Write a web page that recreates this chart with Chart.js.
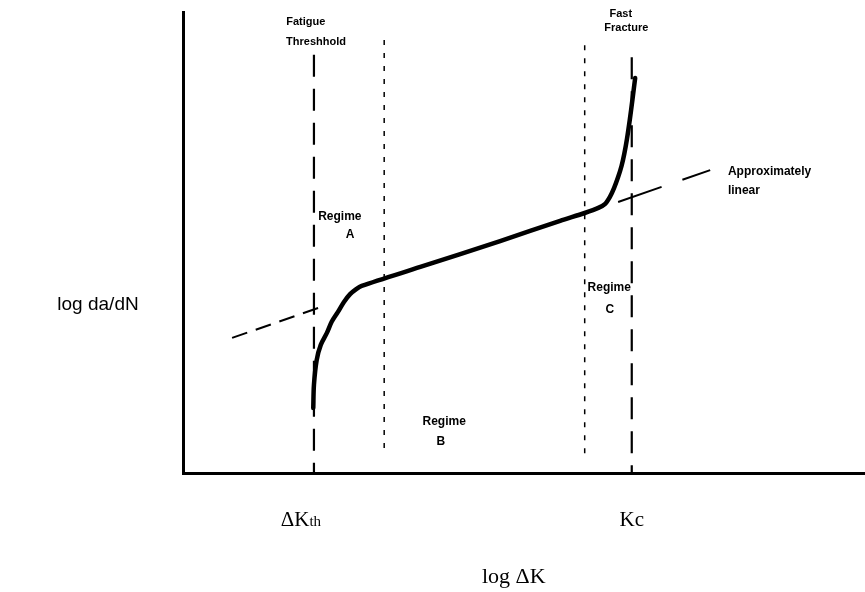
<!DOCTYPE html>
<html><head><meta charset="utf-8">
<script src="https://cdn.jsdelivr.net/npm/chart.js@4"></script>
<style>html,body{margin:0;padding:0;background:#fff}#wrap{width:865px;height:592px}</style>
</head><body><div id="wrap"><canvas id="c" width="865" height="592"></canvas></div>
<script>
// ---- Data (arbitrary log units, read from the schematic) ----
const curveX = [1.91, 1.92, 1.96, 2.02, 2.11, 2.18, 2.27, 2.36, 2.45, 2.54, 2.62, 3.48, 4.65, 5.53, 5.89, 6.09, 6.19, 6.26, 6.32, 6.38, 6.43, 6.47, 6.51, 6.55, 6.59, 6.63];
const curveY = [1.41, 1.91, 2.45, 2.78, 3.04, 3.28, 3.49, 3.71, 3.88, 3.99, 4.06, 4.47, 5.03, 5.47, 5.64, 5.75, 5.84, 5.99, 6.18, 6.42, 6.66, 6.92, 7.25, 7.65, 8.10, 8.57];
const trendLeftX = [0.72, 2.10];
const trendLeftY = [2.93, 3.64];
const trendRightX = [6.38, 7.73];
const trendRightY = [5.88, 6.57];
const thresholdX = 1.92;   // ΔKth
const fractureX = 6.58;    // Kc
const thresholdTopY = 9.07;
const fractureTopY = 9.02;
const regimeBoundX = [2.95, 5.89];
const regimeBoundTopY = [9.39, 9.28];
const regimeBoundBottomY = [0.50, 0.39];
const tickValues = [thresholdX, fractureX];
const tickMain = ['\u0394K', 'Kc'];
const tickSub = ['th', ''];
const xTitle = 'log \u0394K';
const yTitle = 'log da/dN';

const notes = [
  {t:'Fatigue', x:1.80, y:9.78, size:11},
  {t:'Threshhold', x:1.95, y:9.35, size:11},
  {t:'Fast', x:6.42, y:9.96, size:11},
  {t:'Fracture', x:6.50, y:9.65, size:11},
  {t:'Regime', x:2.30, y:5.55, size:12},
  {t:'A', x:2.45, y:5.16, size:12},
  {t:'Regime', x:3.83, y:1.11, size:12},
  {t:'B', x:3.78, y:0.69, size:12},
  {t:'Regime', x:6.25, y:4.01, size:12},
  {t:'C', x:6.26, y:3.54, size:12},
  {t:'Approximately', x:7.99, y:6.53, size:12, align:'left'},
  {t:'linear', x:7.99, y:6.12, size:12, align:'left'}
];

const pts = (xs, ys) => xs.map((x, i) => ({x, y: ys[i]}));

const textPlugin = {
  id: 'texts',
  beforeDatasetsDraw(chart) {
    const {ctx, scales:{x, y}} = chart;
    ctx.save();
    ctx.fillStyle = '#000';
    ctx.textBaseline = 'middle';
    notes.forEach(n => {
      ctx.font = 'bold ' + n.size + 'px "Liberation Sans", Arial, sans-serif';
      ctx.textAlign = n.align || 'center';
      ctx.fillText(n.t, x.getPixelForValue(n.x), y.getPixelForValue(n.y));
    });
    ctx.restore();
  },
  afterDraw(chart) {
    const {ctx, scales:{x, y}, chartArea} = chart;
    ctx.save();
    ctx.fillStyle = '#000';
    ctx.textBaseline = 'middle';
    tickValues.forEach((v, i) => {
      const px = x.getPixelForValue(v);
      ctx.font = '21px "Liberation Serif", "Times New Roman", serif';
      const wMain = ctx.measureText(tickMain[i]).width;
      ctx.font = '15px "Liberation Serif", "Times New Roman", serif';
      const wSub = ctx.measureText(tickSub[i]).width;
      const start = px - (wMain + wSub) / 2 - (i === 0 ? 13 : 0);
      const ty = chartArea.bottom + 47;
      ctx.textAlign = 'left';
      ctx.font = '21px "Liberation Serif", "Times New Roman", serif';
      ctx.fillText(tickMain[i], start, ty);
      ctx.font = '15px "Liberation Serif", "Times New Roman", serif';
      ctx.fillText(tickSub[i], start + wMain, ty + 2);
    });
    ctx.textAlign = 'center';
    ctx.font = '22px "Liberation Serif", "Times New Roman", serif';
    ctx.fillText(xTitle, x.getPixelForValue(4.85), chartArea.bottom + 104);
    ctx.font = '19px "Liberation Sans", Arial, sans-serif';
    ctx.fillText(yTitle, 98, y.getPixelForValue(3.64));
    ctx.restore();
  }
};

const base = {pointRadius: 0, borderColor: '#000', fill: false, showLine: true};

new Chart(document.getElementById('c'), {
  type: 'scatter',
  data: {
    datasets: [
      Object.assign({}, base, {label:'crack growth', data: pts(curveX, curveY), borderWidth: 4.5, tension: 0.3, borderCapStyle:'round', borderJoinStyle:'round'}),
      Object.assign({}, base, {label:'linear fit L', data: pts(trendLeftX, trendLeftY), borderWidth: 2, borderDash:[16, 9]}),
      Object.assign({}, base, {label:'linear fit R', data: pts(trendRightX, trendRightY), borderWidth: 2, borderDash:[46, 22]}),
      Object.assign({}, base, {label:'threshold', data: [{x:thresholdX, y:thresholdTopY}, {x:thresholdX, y:0}], borderWidth: 2.2, borderDash:[22, 12]}),
      Object.assign({}, base, {label:'fracture', data: [{x:fractureX, y:fractureTopY}, {x:fractureX, y:0}], borderWidth: 2.2, borderDash:[22, 12]}),
      Object.assign({}, base, {label:'bound A/B', data: [{x:regimeBoundX[0], y:regimeBoundTopY[0]}, {x:regimeBoundX[0], y:regimeBoundBottomY[0]}], borderWidth: 1.5, borderDash:[5, 8]}),
      Object.assign({}, base, {label:'bound B/C', data: [{x:regimeBoundX[1], y:regimeBoundTopY[1]}, {x:regimeBoundX[1], y:regimeBoundBottomY[1]}], borderWidth: 1.5, borderDash:[5, 8]})
    ]
  },
  options: {
    responsive: false,
    animation: false,
    devicePixelRatio: 1,
    layout: {padding: {left: 183, top: 12, right: 0, bottom: 119}},
    plugins: {legend: {display: false}, tooltip: {enabled: false}},
    scales: {
      x: {type: 'linear', min: 0, max: 10, ticks: {display: false}, grid: {display: false, drawTicks: false}, border: {display: true, color: '#000', width: 3}, afterFit(s) { s.height = 0; }},
      y: {type: 'linear', min: 0, max: 10, ticks: {display: false}, grid: {display: false, drawTicks: false}, border: {display: true, color: '#000', width: 3}, afterFit(s) { s.width = 0; }}
    }
  },
  plugins: [textPlugin]
});
</script>
</body></html>
